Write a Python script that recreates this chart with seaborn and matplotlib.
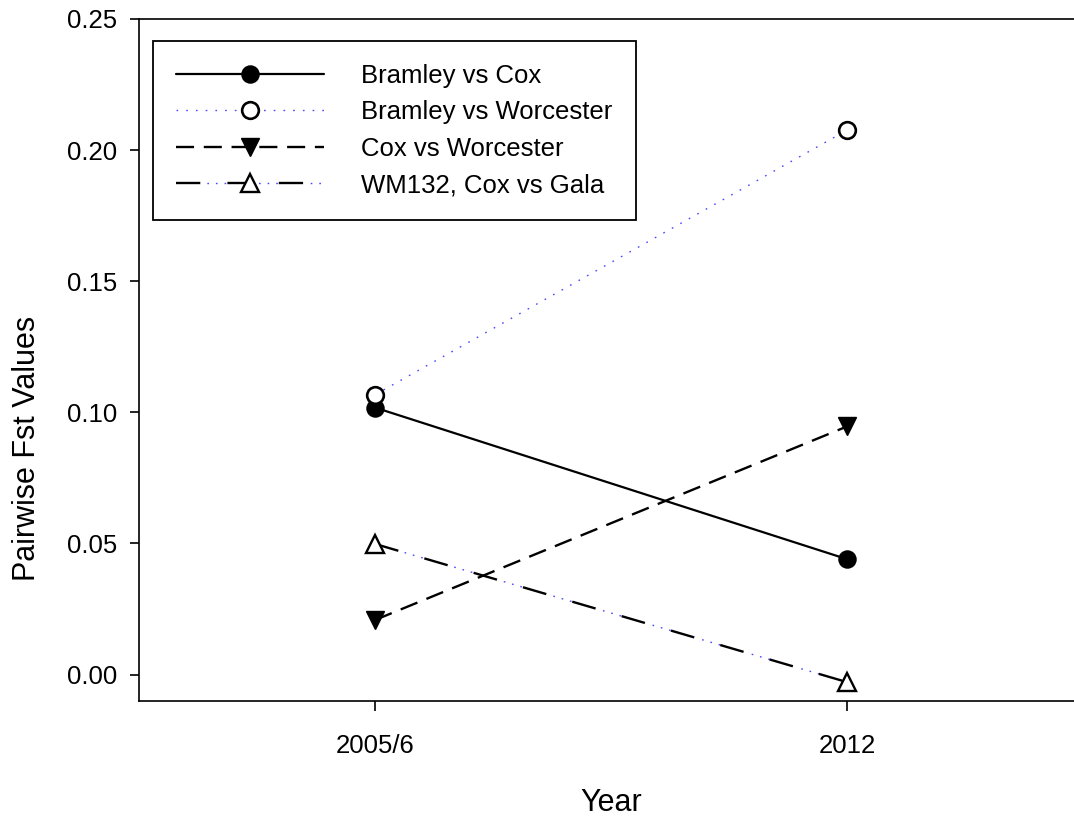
import pandas as pd
import matplotlib
matplotlib.use("Agg")
import matplotlib.pyplot as plt
import seaborn as sns
from matplotlib.lines import Line2D

# ---- data ----
YEARS = ["2005/6", "2012"]
BRAMLEY_COX = [0.1018, 0.0440]
BRAMLEY_WORCESTER = [0.1067, 0.2076]
COX_WORCESTER = [0.0208, 0.0946]
WM132_COX_GALA = [0.0498, -0.0029]

LABELS = ["Bramley vs Cox", "Bramley vs Worcester", "Cox vs Worcester", "WM132, Cox vs Gala"]
SERIES = [BRAMLEY_COX, BRAMLEY_WORCESTER, COX_WORCESTER, WM132_COX_GALA]

sns.set_style("ticks")
plt.rcParams["font.family"] = ["Liberation Sans", "DejaVu Sans"]
plt.rcParams["lines.scale_dashes"] = False
plt.rcParams["text.color"] = "black"
plt.rcParams["axes.labelcolor"] = "black"
plt.rcParams["xtick.color"] = "black"
plt.rcParams["ytick.color"] = "black"

BLUE = "#4a4aff"

# one style per series
STYLES = [
    dict(color="black", linestyle="-", linewidth=1.6, marker="o", markersize=12,
         markerfacecolor="black", markeredgecolor="black", markeredgewidth=1.3),
    dict(color=BLUE, linestyle=(0, (1.2, 5.8)), linewidth=1.0, marker="o", markersize=12,
         markerfacecolor="white", markeredgecolor="black", markeredgewidth=1.9),
    dict(color="black", linestyle=(0, (13, 7)), linewidth=1.7, marker="v", markersize=13,
         markerfacecolor="black", markeredgecolor="black", markeredgewidth=1.0),
    dict(color="black", linestyle=(0, (17.5, 19.5)), linewidth=1.7, marker="^", markersize=13,
         markerfacecolor="white", markeredgecolor="black", markeredgewidth=1.7),
]
WM_DOTS = dict(color=BLUE, linestyle=(15, (1.2, 5, 1.2, 5, 1.2, 23.6)), linewidth=1.0)

fig = plt.figure(figsize=(10.74, 8.16), dpi=100)
ax = fig.add_axes([139 / 1074, 1 - 701 / 816, 944 / 1074, 682 / 816])

for label, vals, st in zip(LABELS, SERIES, STYLES):
    df = pd.DataFrame({"Year": YEARS, "Fst": vals})
    if label == LABELS[3]:
        sns.lineplot(data=df, x="Year", y="Fst", ax=ax, sort=False, zorder=2, **WM_DOTS)
    sns.lineplot(data=df, x="Year", y="Fst", ax=ax, sort=False, zorder=3, **st)

ax.set_xlim(-0.5, 1.5)
ax.set_ylim(-0.0101, 0.25)
ax.set_yticks([0.0, 0.05, 0.10, 0.15, 0.20, 0.25])
ax.set_yticklabels(["0.00", "0.05", "0.10", "0.15", "0.20", "0.25"])

for s in ax.spines.values():
    s.set_linewidth(1.2)
    s.set_color("black")
ax.tick_params(axis="y", direction="out", length=6.5, width=1.2, pad=9, labelsize=18.5)
ax.tick_params(axis="x", direction="out", length=7, width=1.2, pad=17, labelsize=18.5)

ax.set_xlabel("Year", fontsize=22)
ax.set_ylabel("Pairwise Fst Values", fontsize=22)
ax.xaxis.set_label_coords(0.5, -0.127)
ax.yaxis.set_label_coords(-0.103, 0.371)

# legend handles
handles = []
for label, st in zip(LABELS, STYLES):
    h = Line2D([], [], **st)
    if label == LABELS[3]:
        h = (Line2D([], [], **WM_DOTS), h)
    handles.append(h)

leg = ax.legend(handles, LABELS, loc="upper left",
                bbox_to_anchor=(153 / 1074, 1 - 41 / 816), bbox_transform=fig.transFigure,
                borderaxespad=0, fontsize=18.5, handlelength=5.76, handletextpad=1.44,
                labelspacing=0.48, borderpad=0.9, numpoints=1, fancybox=False,
                framealpha=1, edgecolor="black")
leg.get_frame().set_linewidth(1.3)

fig.savefig("out.png", dpi=100, facecolor="white")
